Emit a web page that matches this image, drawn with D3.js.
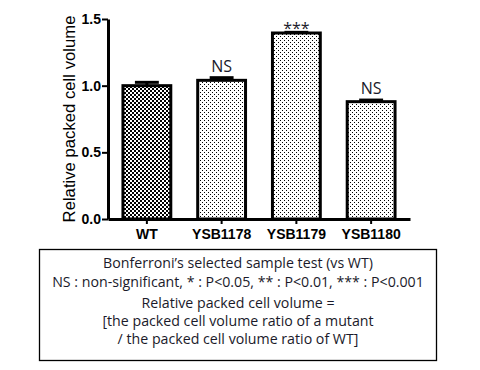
<!DOCTYPE html>
<html>
<head>
<meta charset="utf-8">
<script src="https://cdn.jsdelivr.net/npm/d3@7"></script>
<style>
body { margin: 0; background: #fff; }
</style>
</head>
<body>
<script>
let strains = ["WT", "YSB1178", "YSB1179", "YSB1180"];
let volumes = [1.0, 1.04, 1.395, 0.88];
let errors = [0.025, 0.02, 0.005, 0.012];
let marks = ["", "NS", "***", "NS"];
let yTicks = [0, 0.5, 1.0, 1.5];
let noteLines = [
	"Bonferroni\u2019s selected sample test (vs WT)",
	"NS : non-significant, * : P<0.05, ** : P<0.01, *** : P<0.001",
	"Relative packed cell volume =",
	"[the packed cell volume ratio of a mutant",
	"/ the packed cell volume ratio of WT]"
];

let rows = strains.map((s, i) => ({name: s, value: volumes[i], err: errors[i], mark: marks[i]}));

let svg = d3.select("body").append("svg")
	.attr("width", 480)
	.attr("height", 370)

let defs = svg.append("defs");

// checkerboard for WT
let chk = defs.append("pattern")
	.attr("id", "chk")
	.attr("patternUnits", "userSpaceOnUse")
	.attr("width", 4)
	.attr("height", 4)
chk.append("rect").attr("width", 4).attr("height", 4).attr("fill", "#fff")
chk.append("rect").attr("width", 2).attr("height", 2).attr("fill", "#000")
chk.append("rect").attr("x", 2).attr("y", 2).attr("width", 2).attr("height", 2).attr("fill", "#000")

// fine dots for mutants
let dots = defs.append("pattern")
	.attr("id", "dots")
	.attr("patternUnits", "userSpaceOnUse")
	.attr("width", 4)
	.attr("height", 4)
dots.append("rect").attr("width", 4).attr("height", 4).attr("fill", "#fff")
dots.append("rect").attr("width", 1).attr("height", 1).attr("fill", "#000")
dots.append("rect").attr("x", 2).attr("y", 2).attr("width", 1).attr("height", 1).attr("fill", "#000")

let x = d3.scaleBand()
	.domain(strains)
	.range([108, 410])
	.paddingInner(0.36)
	.paddingOuter(0.2)

let y = d3.scaleLinear()
	.domain([0, 1.5])
	.range([219, 19])

// bars
svg.append("g").selectAll("rect")
	.data(rows).enter()
	.append("rect")
	.attr("x", d => x(d.name))
	.attr("y", d => y(d.value))
	.attr("width", x.bandwidth())
	.attr("height", d => y(0) - y(d.value))
	.attr("fill", (d, i) => i == 0 ? "url(#chk)" : "url(#dots)")
	.attr("stroke", "#000")
	.attr("stroke-width", 3)

// error bars (upper half only)
let eb = svg.append("g").selectAll("g")
	.data(rows).enter()
	.append("g")
	.attr("stroke", "#000")
	.attr("stroke-width", 3)
eb.append("line")
	.attr("x1", d => x(d.name) + x.bandwidth() / 2)
	.attr("x2", d => x(d.name) + x.bandwidth() / 2)
	.attr("y1", d => y(d.value))
	.attr("y2", d => y(d.value + d.err))
eb.append("line")
	.attr("x1", d => x(d.name) + x.bandwidth() / 4)
	.attr("x2", d => x(d.name) + x.bandwidth() * 3 / 4)
	.attr("y1", d => y(d.value + d.err))
	.attr("y2", d => y(d.value + d.err))

// significance marks
svg.append("g").selectAll("text")
	.data(rows).enter()
	.append("text")
	.attr("x", d => x(d.name) + x.bandwidth() / 2)
	.attr("y", d => y(d.value + d.err) - 6)
	.attr("dy", d => d.mark == "***" ? "0.5em" : 0)
	.attr("text-anchor", "middle")
	.attr("font-family", "Open Sans")
	.attr("font-size", 16)
	.attr("fill", "#1a1a2a")
	.text(d => d.mark)

// y axis
let yAxis = svg.append("g")
	.attr("transform", "translate(108,0)")
	.call(d3.axisLeft(y).tickValues(yTicks).tickFormat(d3.format(".1f")).tickSize(6).tickSizeOuter(0))
yAxis.select(".domain").attr("stroke-width", 3)
yAxis.selectAll(".tick line").attr("stroke-width", 2)
yAxis.selectAll(".tick text")
	.attr("x", -7)
	.attr("font-family", "Liberation Sans, Arial, sans-serif")
	.attr("font-weight", "bold")
	.attr("font-size", 14)
	.attr("fill", "#000")

// x axis
let xAxis = svg.append("g")
	.attr("transform", "translate(0,219)")
	.call(d3.axisBottom(x).tickSize(5).tickSizeOuter(0))
xAxis.select(".domain").attr("stroke-width", 3)
xAxis.selectAll(".tick line").attr("stroke-width", 2)
xAxis.selectAll(".tick text")
	.attr("y", 10)
	.attr("font-family", "Liberation Sans, Arial, sans-serif")
	.attr("font-weight", "bold")
	.attr("font-size", 14)
	.attr("fill", "#000")

// y title
svg.append("text")
	.attr("transform", "translate(75,119) rotate(-90)")
	.attr("text-anchor", "middle")
	.attr("font-family", "Liberation Sans, Arial, sans-serif")
	.attr("font-size", 16.7)
	.attr("fill", "#000")
	.text("Relative packed cell volume")

// note box
svg.append("rect")
	.attr("x", 39.5)
	.attr("y", 249.5)
	.attr("width", 397)
	.attr("height", 111)
	.attr("fill", "none")
	.attr("stroke", "#000")
	.attr("stroke-width", 1.3)

let lineY = [268, 287, 308, 326, 344];
svg.append("g").selectAll("text")
	.data(noteLines).enter()
	.append("text")
	.attr("x", 238)
	.attr("y", (d, i) => lineY[i])
	.attr("text-anchor", "middle")
	.attr("font-family", "Open Sans")
	.attr("font-size", 14.2)
	.attr("fill", "#1a1a2a")
	.text(d => d)
</script>
</body>
</html>
